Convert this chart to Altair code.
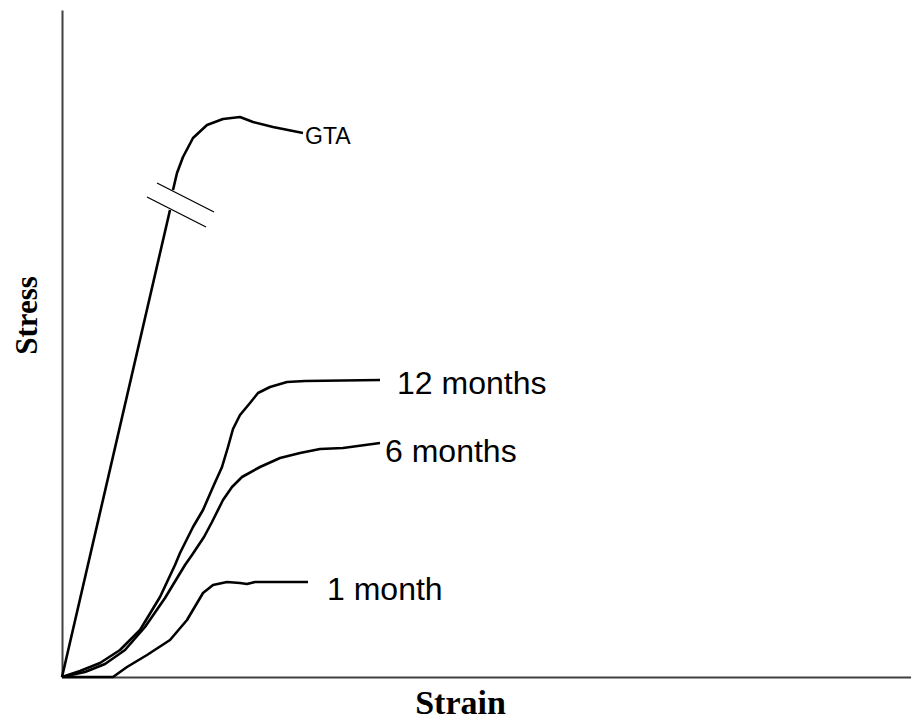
import altair as alt
import pandas as pd

# Curves (arbitrary strain / stress units)
gta_low_strain = [0, 108]
gta_low_stress = [0, 467]
gta_up_strain = [111, 115, 121, 131, 145, 161, 178, 191, 211, 241]
gta_up_stress = [487, 504, 520, 539, 552, 558, 560, 555, 550, 544]

m12_strain = [0, 18, 38, 58, 78, 98, 113, 118, 131, 141, 151, 160, 166, 171, 178, 188, 196, 208, 225, 243, 318]
m12_stress = [0, 6, 14, 27, 47, 80, 112, 124, 150, 167, 190, 210, 230, 248, 262, 274, 284, 290, 295, 296, 297]

m6_strain = [0, 23, 43, 63, 83, 103, 123, 130, 142, 150, 161, 170, 180, 198, 218, 238, 258, 281, 318]
m6_stress = [0, 5, 13, 27, 50, 79, 112, 122, 140, 155, 177, 190, 200, 210, 219, 224, 228, 229, 234]

m1_strain = [0, 51, 65, 85, 108, 125, 141, 151, 165, 178, 185, 193, 246]
m1_stress = [0, 0, 10, 22, 37, 57, 84, 92, 95, 94, 93, 95, 95]

# Break marks on the GTA curve
brk_x1 = [95, 85]
brk_y1 = [494, 480]
brk_x2 = [152, 144]
brk_y2 = [465, 450]

# Curve labels
lab_text = ["GTA", "12 months", "6 months", "1 month"]
lab_strain = [243, 335, 323, 265]
lab_stress = [540, 293, 225, 87]
lab_size = [23, 32, 32, 32]

rows = []
for seg, xs, ys in [("gta_low", gta_low_strain, gta_low_stress),
                    ("gta_up", gta_up_strain, gta_up_stress),
                    ("m12", m12_strain, m12_stress),
                    ("m6", m6_strain, m6_stress),
                    ("m1", m1_strain, m1_stress)]:
    for i, (x, y) in enumerate(zip(xs, ys)):
        rows.append({"seg": seg, "i": i, "strain": x, "stress": y})
curves = pd.DataFrame(rows)

breaks = pd.DataFrame({"strain": brk_x1, "stress": brk_y1, "strain2": brk_x2, "stress2": brk_y2})
labels = pd.DataFrame({"text": lab_text, "strain": lab_strain, "stress": lab_stress, "size": lab_size})

xscale = alt.Scale(domain=[0, 849], nice=False, zero=False)
yscale = alt.Scale(domain=[0, 667], nice=False, zero=False)

xaxis = alt.Axis(
    title="Strain", ticks=False, labels=False, grid=False,
    domainColor="#404040", domainWidth=2,
    titleFont="Liberation Serif", titleFontSize=34, titleFontWeight="bold", titleColor="black",
    titleX=398, titleY=36, titleBaseline="alphabetic", titleAlign="center")
yaxis = alt.Axis(
    title="Stress", ticks=False, labels=False, grid=False,
    domainColor="#404040", domainWidth=2,
    titleFont="Liberation Serif", titleFontSize=31, titleFontWeight="bold", titleColor="black",
    titleAngle=270, titleX=-35, titleY=305, titleBaseline="middle", titleAlign="center")

X = alt.X("strain:Q", scale=xscale, axis=xaxis)
Y = alt.Y("stress:Q", scale=yscale, axis=yaxis)

lines = alt.Chart(curves).mark_line(color="black", strokeWidth=2.6, strokeJoin="round").encode(
    x=X, y=Y, detail="seg:N", order="i:Q",
)

brk = alt.Chart(breaks).mark_rule(color="black", strokeWidth=1.3).encode(
    x=X, y=Y, x2="strain2:Q", y2="stress2:Q",
)

txt = alt.Chart(labels).mark_text(align="left", baseline="middle", font="Liberation Sans", color="black").encode(
    x=X, y=Y, text="text:N",
    size=alt.Size("size:Q", scale=None, legend=None),
)

chart = alt.layer(lines, brk, txt).properties(
    width=849, height=667,
    autosize=alt.AutoSizeParams(type="none"),
    padding={"left": 54, "top": 2, "right": 0, "bottom": 40},
    background="white",
).configure_view(stroke=None)

chart.save("out.html", embed_options={"renderer": "svg", "actions": False})
